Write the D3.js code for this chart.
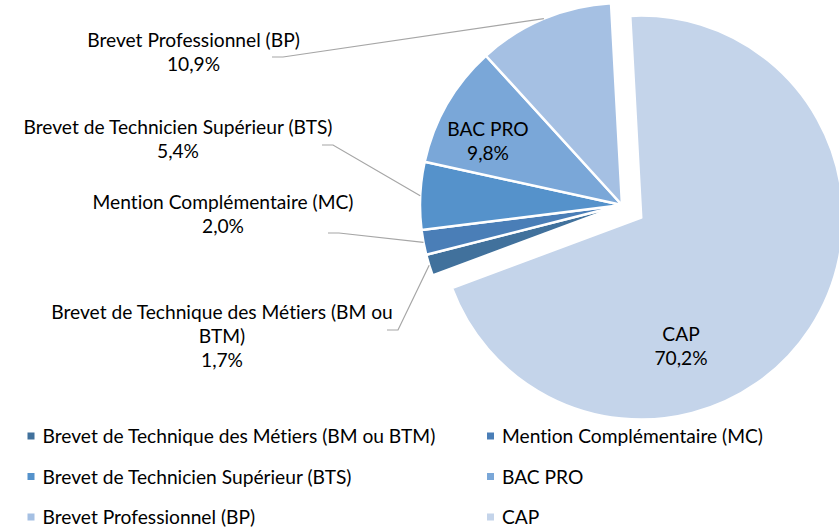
<!DOCTYPE html>
<html lang="fr">
<head>
<meta charset="utf-8">
<script src="https://cdn.jsdelivr.net/npm/d3@7"></script>
<style>
  html, body { margin: 0; padding: 0; background: #ffffff; }
  svg { display: block; font-family: Lato, "Open Sans", sans-serif; font-variant-ligatures: none; }
</style>
</head>
<body>
<svg id="chart" width="839" height="528"></svg>
<script>
// Diplômes préparés — répartition en pourcentage
const categories = [
  "Brevet de Technique des Métiers (BM ou BTM)",
  "Mention Complémentaire (MC)",
  "Brevet de Technicien Supérieur (BTS)",
  "BAC PRO",
  "Brevet Professionnel (BP)",
  "CAP"
];
const shares = [1.7, 2.0, 5.4, 9.8, 10.9, 70.2];
const colors = ["#41719c", "#4a7eb7", "#5592cb", "#7aa7d8", "#a5c0e3", "#c4d4ea"];

// Layout of the pie
const W = 839, H = 528;
const cx = 622, cy = 205, R = 202;
const startDeg = 249.6;
const explodeIndex = 5, explodeDist = 23;
const fontSize = 19.2, lineGap = 24.2;

// Label placement: centre x and first baseline (outside labels carry a leader line)
const labelLayout = {
  0: { x: 222, y: 319, breakAfter: 7, lead: [387, 330] },
  1: { x: 223, y: 209, lead: [328, 233] },
  2: { x: 178, y: 133.5, lead: [322, 145] },
  3: { x: 488, y: 135.5, inside: true },
  4: { x: 193.5, y: 46.5, lead: [272, 57] },
  5: { x: 681, y: 340.5, inside: true }
};

const fmt = v => d3.format(".1f")(v).replace(".", ",") + "%";
const rad = d => d * Math.PI / 180;

const svg = d3.select("#chart");

const pie = d3.pie().sort(null).value(d => d.v)
  .startAngle(rad(startDeg)).endAngle(rad(startDeg) + 2 * Math.PI);
const data = categories.map((c, i) => ({ name: c, v: shares[i], i }));
const arcs = pie(data);
const arc = d3.arc().innerRadius(0).outerRadius(R);

const offsetOf = a => {
  if (a.data.i !== explodeIndex) return [0, 0];
  const m = (a.startAngle + a.endAngle) / 2;
  return [Math.sin(m) * explodeDist, -Math.cos(m) * explodeDist];
};

const g = svg.append("g").attr("transform", `translate(${cx},${cy})`);
g.selectAll("path.slice").data(arcs).join("path")
  .attr("class", "slice")
  .attr("d", arc)
  .attr("transform", a => `translate(${offsetOf(a)})`)
  .attr("fill", a => colors[a.data.i])
  .attr("stroke", "#ffffff")
  .attr("stroke-width", 2.5)
  .attr("stroke-linejoin", "round");

// Leader lines from label to the slice rim
const leaders = svg.append("g");
arcs.forEach(a => {
  const L = labelLayout[a.data.i];
  if (L.inside) return;
  const m = (a.startAngle + a.endAngle) / 2;
  const [ox, oy] = offsetOf(a);
  const ex = cx + ox + Math.sin(m) * R, ey = cy + oy - Math.cos(m) * R;
  const [lx, ly] = L.lead;
  leaders.append("path")
    .attr("d", d3.line()([[lx, ly], [lx + 11, ly], [ex, ey]]))
    .attr("fill", "none")
    .attr("stroke", "#a6a6a6")
    .attr("stroke-width", 1.2);
});

// Data labels: category name and share
const labels = svg.append("g")
  .attr("font-size", fontSize)
  .attr("fill", "#000000")
  .attr("text-anchor", "middle");
arcs.forEach(a => {
  const L = labelLayout[a.data.i];
  const words = a.data.name.split(" ");
  const lines = L.breakAfter
    ? [words.slice(0, L.breakAfter).join(" "), words.slice(L.breakAfter).join(" ")]
    : [a.data.name];
  lines.push(fmt(a.data.v));
  lines.forEach((t, k) => {
    labels.append("text")
      .attr("x", L.x)
      .attr("y", L.y + k * lineGap)
      .text(t);
  });
});

// Legend, two columns (baselines)
const legendCols = [27.5, 487];
const legendRows = [443, 483.5, 524];
const legend = svg.append("g").attr("font-size", fontSize).attr("fill", "#000000");
categories.forEach((c, i) => {
  const x = legendCols[i % 2], y = legendRows[Math.floor(i / 2)];
  legend.append("rect")
    .attr("x", x).attr("y", y - 10.5)
    .attr("width", 7).attr("height", 7)
    .attr("fill", colors[i]);
  legend.append("text")
    .attr("x", x + 15).attr("y", y)
    .text(c);
});
</script>
</body>
</html>
